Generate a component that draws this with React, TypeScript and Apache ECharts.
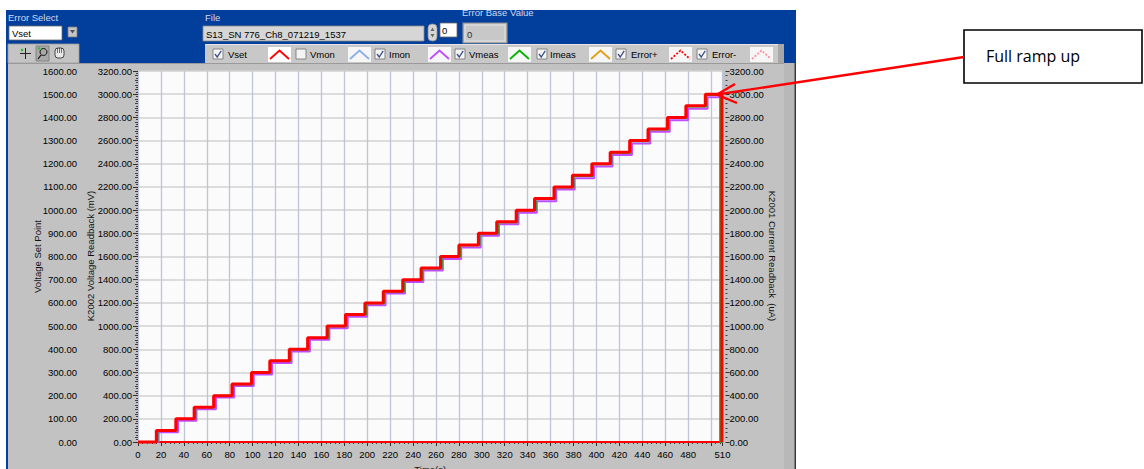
import React, { useEffect, useRef } from "react";
import * as echarts from "echarts";

const FONT = '"Liberation Sans", Arial, sans-serif';

// ---- data ----
const xMin = 0;
const xMax = 510;
const xLabelValues = [0, 20, 40, 60, 80, 100, 120, 140, 160, 180, 200, 220, 240, 260, 280, 300, 320, 340, 360, 380, 400, 420, 440, 460, 480, 510];
const xTickValues = [0, 20, 40, 60, 80, 100, 120, 140, 160, 180, 200, 220, 240, 260, 280, 300, 320, 340, 360, 380, 400, 420, 440, 460, 480, 500, 510];

// Vset (Voltage Set Point, left outer axis 0..1600)
const vsetTimes = [16, 33, 49, 66, 82, 99, 115, 132, 148, 165, 181, 198, 214, 231, 247, 264, 280, 297, 313, 330, 346, 363, 379, 396, 412, 429, 445, 462, 478, 495];
const vsetLevels = [50, 100, 150, 200, 250, 300, 350, 400, 450, 500, 550, 600, 650, 700, 750, 800, 850, 900, 950, 1000, 1050, 1100, 1150, 1200, 1250, 1300, 1350, 1400, 1450, 1500];
const vsetDrop = 509.5;

// Vmeas (K2002 Voltage Readback mV, left inner axis 0..3200)
const vmeasTimes = [17, 34, 50, 67, 83, 100, 116, 133, 149, 166, 182, 199, 215, 232, 248, 265, 281, 298, 314, 331, 347, 364, 380, 397, 413, 430, 446, 463, 479, 496];
const vmeasLevels = [99, 199, 299, 399, 499, 598, 698, 798, 898, 998, 1098, 1197, 1297, 1397, 1497, 1597, 1696, 1796, 1896, 1996, 2096, 2196, 2295, 2395, 2495, 2595, 2695, 2794, 2894, 2994];
const vmeasDrop = 508;

// Imon (K2001 Current Readback uA, right axis 0..3200)
const imonTimes = [18, 35, 51, 68, 84, 101, 117, 134, 150, 167, 183, 200, 216, 233, 249, 266, 282, 299, 315, 332, 348, 365, 381, 398, 414, 431, 447, 464, 480, 497];
const imonLevels = [84, 183, 283, 383, 482, 582, 682, 781, 881, 981, 1080, 1180, 1280, 1379, 1479, 1579, 1678, 1778, 1878, 1977, 2077, 2177, 2276, 2376, 2476, 2575, 2675, 2775, 2874, 2974];
const imonDrop = 508.5;

// baseline trace at zero
const baseTimes = [0, 510];
const baseLevels = [0, 0];

const legendNames = ["Vset", "Vmon", "Imon", "Vmeas", "Imeas", "Error+", "Error-"];
const legendChecked = [true, false, true, true, true, true, true];
const legendColors = ["#ff0000", "#8eaee6", "#c04cff", "#00b400", "#e0a018", "#ff0000", "#ff8fa0"];
const legendDashed = [false, false, false, false, false, true, true];

const axisNames = ["Voltage Set Point", "K2002 Voltage Readback (mV)", "K2001 Current Readback  (uA)"];
const fileName = "S13_SN 776_Ch8_071219_1537";

// ---- layout (not data) ----
const legendCb = [213, 296, 375, 455, 537, 616, 697];
const legendTx = [228, 310, 389, 469, 550, 631, 712];
const legendIc = [268, 348, 428, 508, 589, 669, 750];

function stair(times: number[], levels: number[], drop: number) {
  const d: number[][] = [[0, 0]];
  times.forEach((t, i) => d.push([t, levels[i]]));
  d.push([drop, 0]);
  d.push([xMax, 0]);
  return d;
}

function txt(x: number, y: number, text: string, opts: any = {}) {
  return {
    type: "text",
    x,
    y,
    rotation: opts.rotation ?? 0,
    z: opts.z ?? 50,
    style: {
      text,
      fill: opts.fill ?? "#000",
      fontSize: opts.size ?? 9.5,
      fontFamily: opts.family ?? FONT,
      align: opts.align ?? "left",
      verticalAlign: opts.valign ?? "middle",
      textAlign: opts.align ?? "left",
      textVerticalAlign: opts.valign ?? "middle",
    },
  };
}

function rect(x: number, y: number, w: number, h: number, style: any, z = 5, r = 0) {
  return { type: "rect", z, shape: { x, y, width: w, height: h, r }, style };
}

function buildGraphics() {
  const g: any[] = [];
  const BLUE = "#023f9c";
  const GRAY = "#c2c2c2";
  // panels
  g.push(rect(0, 0, 1144, 469, { fill: "#ffffff" }, -100));
  g.push(rect(6, 10, 790, 459, { fill: BLUE }, -99));
  g.push(rect(8, 63, 787, 406, { fill: GRAY }, -98));
  g.push({ type: "line", z: -97, shape: { x1: 8, y1: 63.5, x2: 795, y2: 63.5 }, style: { stroke: "#9a9a9a", lineWidth: 1 } });
  g.push(rect(784, 63, 10, 406, { fill: "#b8b8b8" }, -97));
  g.push({ type: "line", z: -96, shape: { x1: 794.5, y1: 63, x2: 794.5, y2: 469 }, style: { stroke: "#7c7c7c", lineWidth: 1 } });
  // plot background
  g.push(rect(138, 71, 584.5, 371, { fill: "#fbfbfb" }, -90));

  // axis names
  g.push(txt(37.5, 256.5, axisNames[0], { align: "center", rotation: Math.PI / 2, fill: "#111" }));
  g.push(txt(90, 256, axisNames[1], { align: "center", rotation: Math.PI / 2, fill: "#111" }));
  g.push(txt(772, 256, axisNames[2], { align: "center", rotation: -Math.PI / 2, fill: "#111" }));

  // top controls
  g.push(txt(8, 17, "Error Select", { fill: "#cfd8f0" }));
  g.push(rect(9, 26, 53, 14, { fill: "#ffffff", stroke: "#6a6a6a", lineWidth: 0.8 }));
  g.push(txt(12, 33.5, "Vset"));
  g.push(rect(68, 27, 9, 10, { fill: "#c6c6c6", stroke: "#7a7a7a", lineWidth: 0.8 }));
  g.push({ type: "polygon", z: 6, shape: { points: [[70, 30], [75, 30], [72.5, 33.5]] }, style: { fill: "#505050" } });

  g.push(txt(205, 17, "File", { fill: "#cfd8f0" }));
  g.push(rect(203, 26, 221, 15, { fill: "#d6d6d6", stroke: "#8a8a8a", lineWidth: 0.8 }));
  g.push(txt(206, 34, fileName));
  g.push(rect(428, 24, 9, 17, { fill: "#d6d6d6", stroke: "#8c8c8c", lineWidth: 0.8 }, 5, 4));
  g.push({ type: "polygon", z: 6, shape: { points: [[430.5, 31], [434.5, 31], [432.5, 27.5]] }, style: { fill: "#6a6a6a" } });
  g.push({ type: "polygon", z: 6, shape: { points: [[430.5, 34], [434.5, 34], [432.5, 37.5]] }, style: { fill: "#6a6a6a" } });
  g.push(rect(440, 23, 17, 14, { fill: "#ffffff", stroke: "#6a6a6a", lineWidth: 0.8 }));
  g.push(txt(442, 30.5, "0"));
  g.push(txt(462, 12.5, "Error Base Value", { fill: "#cfd8f0" }));
  g.push(rect(463, 23, 44, 20, { fill: "#c8c8c8", stroke: "#8c8c8c", lineWidth: 1.2 }));
  g.push(rect(465, 25, 40, 16, { fill: "none", stroke: "#e8e8e8", lineWidth: 0.8 }));
  g.push(txt(467, 34, "0", { fill: "#333" }));

  // toolbar
  g.push(rect(8, 44, 71, 19, { fill: "#c4c4c4", stroke: "#9c9c9c", lineWidth: 0.8 }));
  g.push({ type: "line", z: 6, shape: { x1: 20, y1: 53.5, x2: 31, y2: 53.5 }, style: { stroke: "#222", lineWidth: 1 } });
  g.push({ type: "line", z: 6, shape: { x1: 25.5, y1: 48, x2: 25.5, y2: 59 }, style: { stroke: "#222", lineWidth: 1 } });
  g.push({ type: "circle", z: 7, shape: { cx: 22, cy: 50, r: 1.3 }, style: { fill: "#30c030" } });
  g.push(rect(36, 46, 13, 15, { fill: "#a9a9a9", stroke: "#777", lineWidth: 0.8 }));
  g.push({ type: "circle", z: 6, shape: { cx: 43.5, cy: 52, r: 3.5 }, style: { fill: "none", stroke: "#111", lineWidth: 1 } });
  g.push({ type: "line", z: 6, shape: { x1: 41, y1: 55, x2: 38, y2: 59 }, style: { stroke: "#111", lineWidth: 1.2 } });
  g.push({ type: "circle", z: 7, shape: { cx: 39, cy: 48.5, r: 1.3 }, style: { fill: "#30c030" } });
  g.push(rect(55, 48, 9, 10, { fill: "#e8e8e8", stroke: "#222", lineWidth: 0.8 }, 6, 3));
  g.push({ type: "line", z: 7, shape: { x1: 57.5, y1: 48, x2: 57.5, y2: 53 }, style: { stroke: "#222", lineWidth: 0.6 } });
  g.push({ type: "line", z: 7, shape: { x1: 59.5, y1: 48, x2: 59.5, y2: 53 }, style: { stroke: "#222", lineWidth: 0.6 } });
  g.push({ type: "line", z: 7, shape: { x1: 61.5, y1: 48, x2: 61.5, y2: 53 }, style: { stroke: "#222", lineWidth: 0.6 } });

  // legend bar
  g.push(rect(205, 44, 578, 19, { fill: "#c8c8c8" }, 2));
  g.push({ type: "line", z: 3, shape: { x1: 205, y1: 44.5, x2: 783, y2: 44.5 }, style: { stroke: "#e6e6e6", lineWidth: 1 } });
  g.push(rect(778, 44, 6, 19, { fill: "#a8a8a8" }, 3));
  legendNames.forEach((name, i) => {
    const cb = legendCb[i];
    g.push(rect(cb, 49, 10, 10, { fill: "#f4f4f4", stroke: "#7a7a7a", lineWidth: 0.9 }, 6));
    if (legendChecked[i]) {
      g.push({
        type: "polyline", z: 7,
        shape: { points: [[cb + 2, 54], [cb + 4.2, 57], [cb + 8.2, 50.8]] },
        style: { stroke: "#3d4f86", lineWidth: 1.3, fill: "none" },
      });
    }
    g.push(txt(legendTx[i], 54, name, { fill: "#000" }));
    const ic = legendIc[i];
    g.push(rect(ic, 47, 23, 15, { fill: i === 0 ? "#ffffff" : "#f6f6f6" }, 6));
    g.push({
      type: "polyline", z: 7,
      shape: { points: [[ic + 2, 59], [ic + 11.5, 50.5], [ic + 21, 59]] },
      style: {
        stroke: legendColors[i],
        lineWidth: 1.8,
        lineDash: legendDashed[i] ? [2, 1.6] : null,
        fill: "none",
      },
    });
  });

  // annotation
  g.push(rect(964, 30, 178, 53, { fill: "#ffffff", stroke: "#000000", lineWidth: 1.6 }, 100));
  g.push(txt(986, 56, "Full ramp up", { size: 16, family: '"Open Sans", "Noto Sans", sans-serif', z: 101 }));
  g.push({ type: "line", z: 102, shape: { x1: 964, y1: 57, x2: 717, y2: 94.5 }, style: { stroke: "#ff0000", lineWidth: 2.4 } });
  g.push({
    type: "polyline", z: 102,
    shape: { points: [[735, 84], [717, 94.5], [737, 103]] },
    style: { stroke: "#ff0000", lineWidth: 2.4, fill: "none" },
  });
  return g;
}

const axisLabelStyle = { color: "#000000", fontSize: 9.5, fontFamily: FONT };
const fmt = (v: number) => v.toFixed(2);

export default function App() {
  const ref = useRef<HTMLDivElement>(null);
  useEffect(() => {
    if (!ref.current) return;
    const chart = echarts.init(ref.current, undefined, { renderer: "svg" });
    const option: any = {
      animation: false,
      backgroundColor: "transparent",
      graphic: buildGraphics(),
      grid: { left: 138, right: 421.5, top: 71, bottom: 27, outerBoundsMode: "none", containLabel: false },
      xAxis: {
        type: "value",
        min: xMin,
        max: xMax,
        interval: 20,
        name: "Time(s)",
        nameLocation: "middle",
        nameGap: 22,
        nameTextStyle: { color: "#111", fontSize: 9.5, fontFamily: FONT, verticalAlign: "top" },
        axisLine: { show: false },
        axisTick: { show: true, length: 4, customValues: xTickValues, lineStyle: { color: "#303030", width: 1 } },
        minorTick: { show: true, splitNumber: 5, length: 2, lineStyle: { color: "#404040", width: 1 } },
        axisLabel: { ...axisLabelStyle, margin: 7, customValues: xLabelValues },
        splitLine: { show: true, lineStyle: { color: "#c0c4dc", width: 1.3 } },
      },
      yAxis: [
        {
          type: "value",
          min: 0,
          max: 1600,
          interval: 100,
          position: "left",
          offset: 56,
          axisLine: { show: false },
          axisTick: { show: true, length: 4, lineStyle: { color: "#303030" } },
          minorTick: { show: true, splitNumber: 10, length: 2, lineStyle: { color: "#404040" } },
          axisLabel: { ...axisLabelStyle, margin: 5, formatter: fmt },
          splitLine: { show: false },
        },
        {
          type: "value",
          min: 0,
          max: 3200,
          interval: 200,
          position: "left",
          offset: 1,
          axisLine: { show: false },
          axisTick: { show: true, length: 4, lineStyle: { color: "#303030" } },
          minorTick: { show: true, splitNumber: 5, length: 2, lineStyle: { color: "#404040" } },
          axisLabel: { ...axisLabelStyle, margin: 5, formatter: fmt },
          splitLine: { show: true, lineStyle: { color: "#d2d2d2", width: 1.5 } },
        },
        {
          type: "value",
          min: 0,
          max: 3200,
          interval: 200,
          position: "right",
          offset: 3,
          axisLine: { show: false },
          axisTick: { show: true, length: 4, lineStyle: { color: "#303030" } },
          minorTick: { show: true, splitNumber: 5, length: 2, lineStyle: { color: "#404040" } },
          axisLabel: { ...axisLabelStyle, margin: 4, formatter: fmt },
          splitLine: { show: false },
        },
      ],
      series: [
        {
          name: "Error+",
          type: "line",
          yAxisIndex: 1,
          data: baseTimes.map((t, i) => [t, baseLevels[i]]),
          showSymbol: false,
          clip: false,
          z: 3,
          lineStyle: { color: "#ff0000", width: 2 },
        },
        {
          name: "Imon",
          type: "line",
          yAxisIndex: 2,
          step: "end",
          data: stair(imonTimes, imonLevels, imonDrop),
          showSymbol: false,
          clip: false,
          z: 4,
          lineStyle: { color: "#c04cff", width: 2 },
        },
        {
          name: "Vmeas",
          type: "line",
          yAxisIndex: 1,
          step: "end",
          data: stair(vmeasTimes, vmeasLevels, vmeasDrop),
          showSymbol: false,
          clip: false,
          z: 5,
          lineStyle: { color: "#10a820", width: 2 },
        },
        {
          name: "Vset",
          type: "line",
          yAxisIndex: 0,
          step: "end",
          data: stair(vsetTimes, vsetLevels, vsetDrop),
          showSymbol: false,
          clip: false,
          z: 6,
          lineStyle: { color: "#ff0000", width: 3 },
        },
      ],
    };
    chart.setOption(option);
    return () => chart.dispose();
  }, []);
  return (
    <div
      ref={ref}
      style={{ position: "absolute", left: 0, top: 0, width: 1144, height: 469, background: "#ffffff" }}
    />
  );
}
